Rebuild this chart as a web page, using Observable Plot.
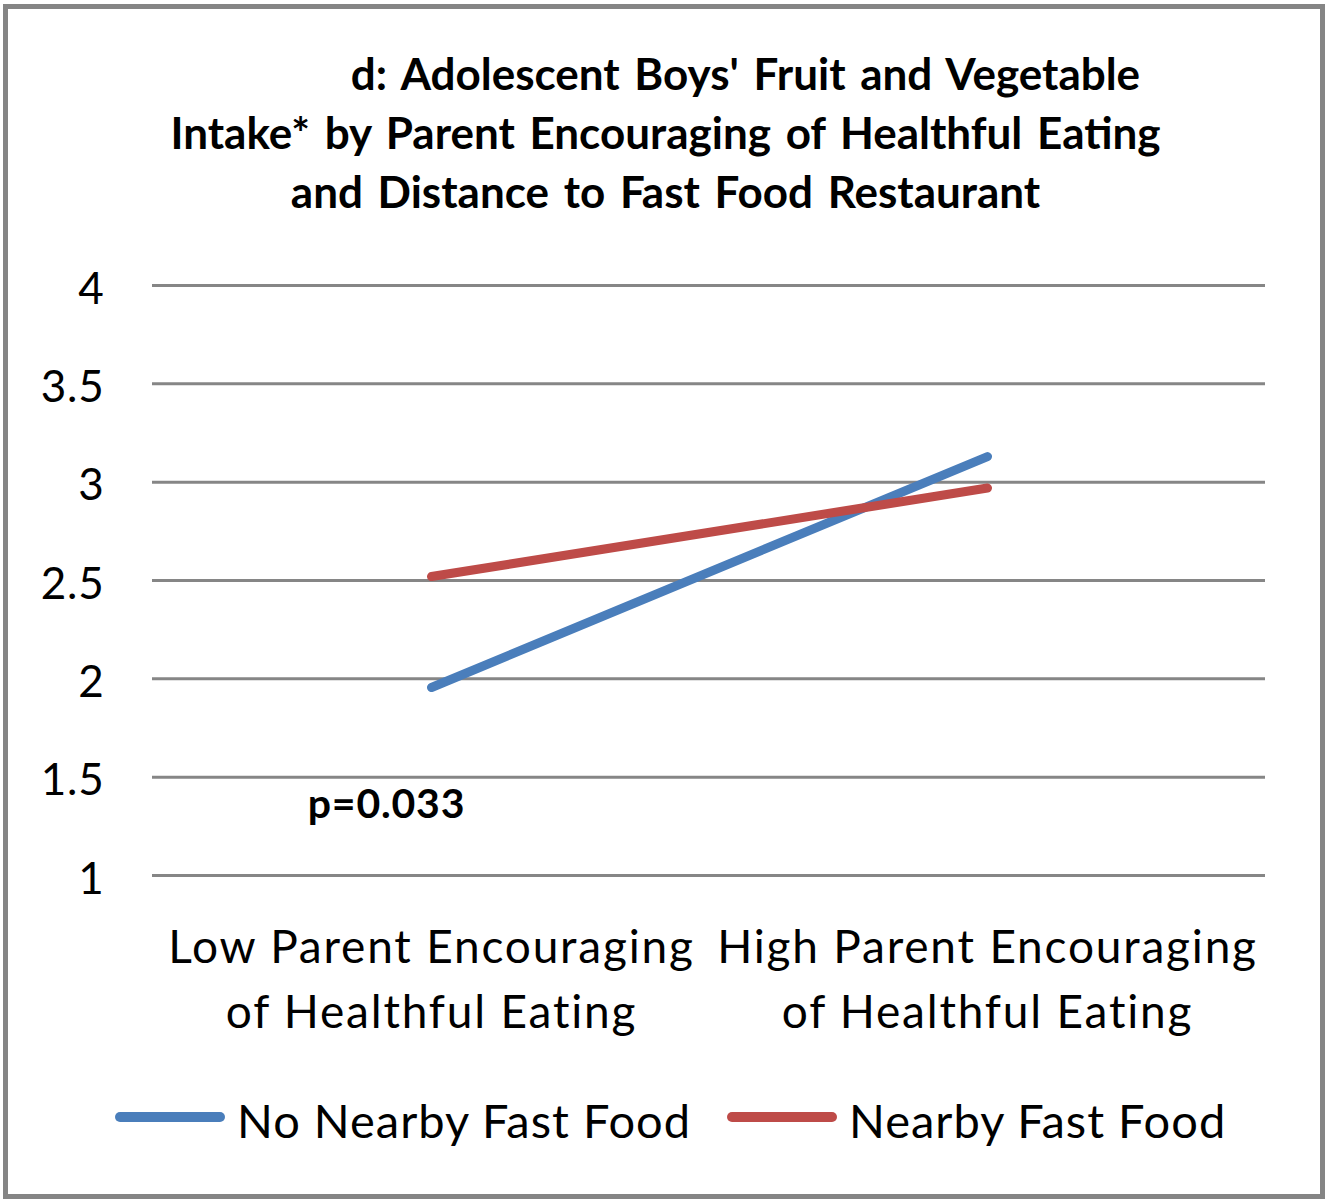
<!DOCTYPE html>
<html>
<head>
<meta charset="utf-8">
<script src="https://cdn.jsdelivr.net/npm/d3@7"></script>
<script src="https://cdn.jsdelivr.net/npm/@observablehq/plot@0.6"></script>
<style>
  html, body { margin: 0; padding: 0; background: #fff; }
  #frame { position: relative; width: 1331px; height: 1201px; overflow: hidden; font-family: Lato, "Open Sans", sans-serif; color: #000; }
  #box { position: absolute; left: 3px; top: 4px; width: 1312px; height: 1185px; border: 5px solid #858585; }
  #title { position: absolute; left: 0; top: 44px; width: 1331px; font-weight: bold; font-size: 44px; line-height: 59px; text-align: center; word-spacing: 4px; }
  #chart { position: absolute; left: 0; top: 250px; }
  .leg { position: absolute; top: 1092px; display: flex; align-items: center; font-size: 47px; letter-spacing: 1px; }
  .sw { width: 110px; height: 10px; border-radius: 5px; margin-right: 12px; margin-top: -6px; }
  #chart svg text { letter-spacing: 0.8px; }
  #chart svg g[aria-label="x-axis tick label"] text { letter-spacing: 1.8px; }
</style>
</head>
<body>
<div id="frame">
  <div id="box"></div>
  <div id="title"></div>
  <div id="chart"></div>
  <div id="legend"></div>
</div>
<script>
const titleLines = [
  "d: Adolescent Boys' Fruit and Vegetable",
  "Intake* by Parent Encouraging of Healthful Eating",
  "and Distance to Fast Food Restaurant"
];
const categories = ["Low Parent Encouraging\nof Healthful Eating", "High Parent Encouraging\nof Healthful Eating"];
const seriesNames = ["No Nearby Fast Food", "Nearby Fast Food"];
const seriesColors = ["#4a7ebb", "#be4b48"];
const noNearby = [1.956, 3.13];
const nearby = [2.52, 2.97];
const yTicks = [1, 1.5, 2, 2.5, 3, 3.5, 4];
const annotation = [{cat: categories[0], value: 1.36, label: "p=0.033"}];

const data = [];
categories.forEach((c, i) => {
  data.push({cat: c, value: noNearby[i], series: seriesNames[0]});
  data.push({cat: c, value: nearby[i], series: seriesNames[1]});
});

// Title
const t = document.getElementById("title");
titleLines.forEach((s, i) => {
  const d = document.createElement("div");
  d.textContent = s;
  if (i === 0) d.style.paddingLeft = "160px";
  t.appendChild(d);
});

const plot = Plot.plot({
  width: 1331,
  height: 810,
  marginTop: 35,
  marginBottom: 185,
  marginLeft: 152,
  marginRight: 66,
  style: {fontFamily: "Lato, 'Open Sans', sans-serif", color: "#000", background: "transparent", overflow: "visible"},
  x: {type: "point", domain: categories, padding: 0.5},
  y: {domain: [1, 4]},
  color: {domain: seriesNames, range: seriesColors},
  marks: [
    Plot.gridY(yTicks, {stroke: "#868686", strokeOpacity: 1, strokeWidth: 3}),
    Plot.axisY({ticks: yTicks, tickSize: 0, tickPadding: 48, fontSize: 44, dy: 4, tickFormat: d => String(d), label: null}),
    Plot.axisX({tickSize: 0, tickPadding: 41, fontSize: 46, lineHeight: 1.42, label: null}),
    Plot.line(data, {x: "cat", y: "value", z: "series", stroke: "series", strokeWidth: 9, strokeLinecap: "round"}),
    Plot.text(annotation, {x: "cat", y: "value", text: "label", dx: -45, fontSize: 41, fontWeight: "bold", textAnchor: "middle"})
  ]
});
document.getElementById("chart").appendChild(plot);

// Legend
const leg = document.getElementById("legend");
const legLeft = [115, 727];
seriesNames.forEach((name, i) => {
  const item = document.createElement("div");
  item.className = "leg";
  item.style.left = legLeft[i] + "px";
  const sw = document.createElement("div");
  sw.className = "sw";
  sw.style.background = seriesColors[i];
  const tx = document.createElement("span");
  tx.textContent = name;
  item.appendChild(sw);
  item.appendChild(tx);
  leg.appendChild(item);
});
</script>
</body>
</html>
